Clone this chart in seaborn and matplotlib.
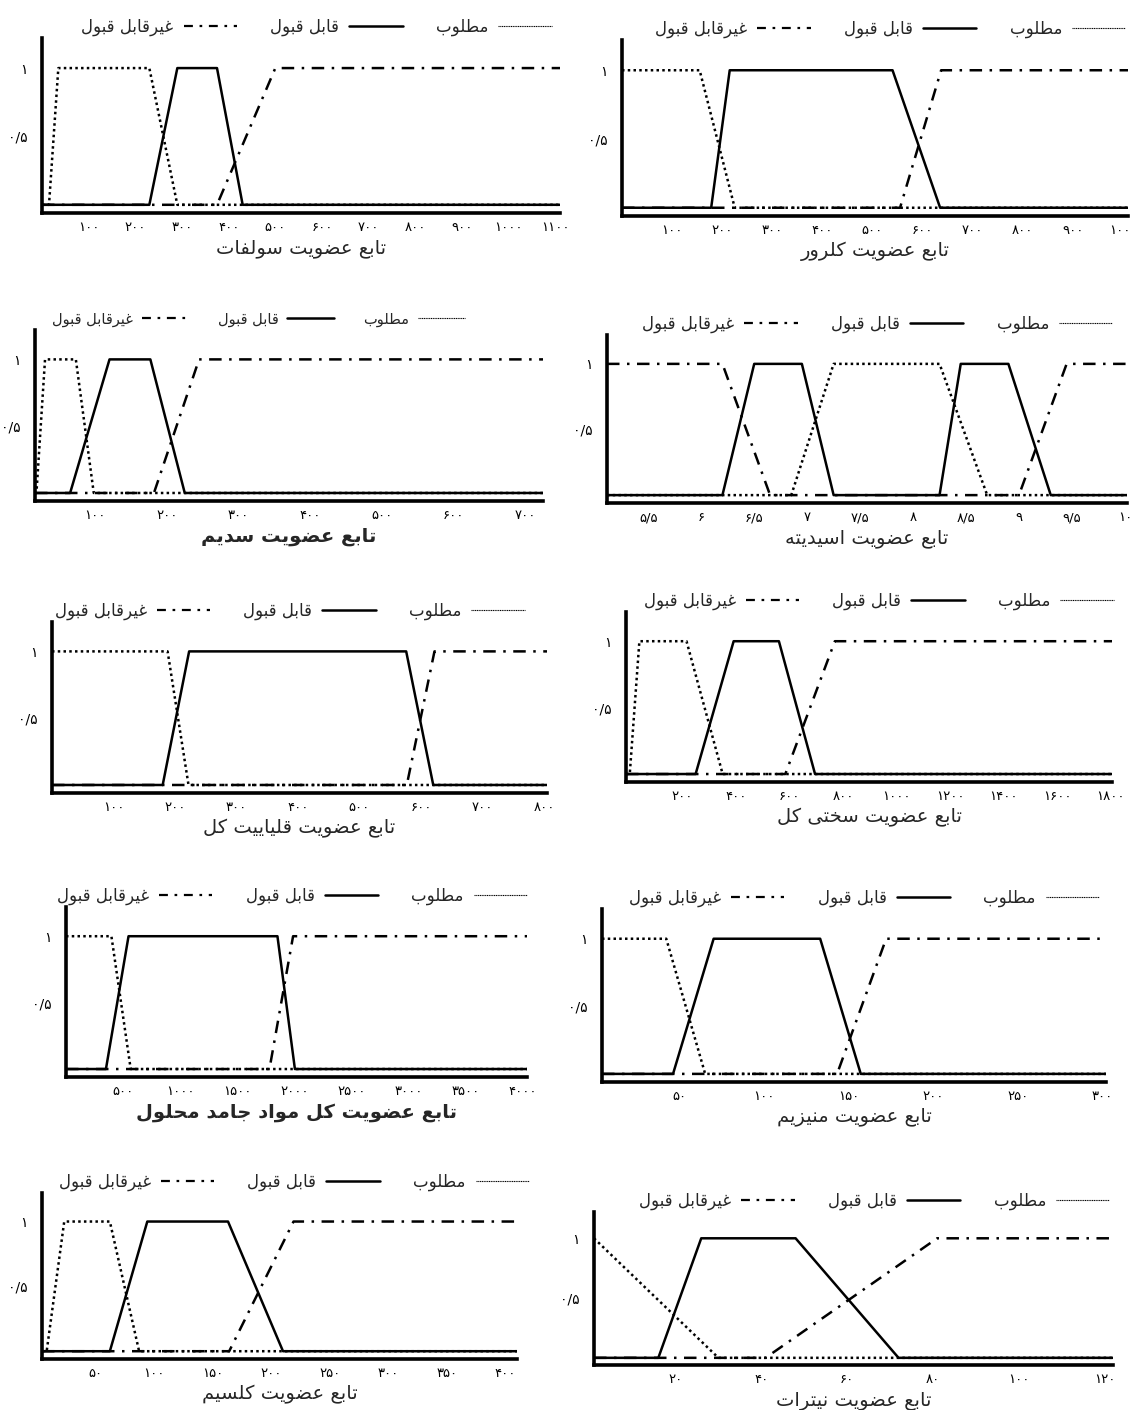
import matplotlib
matplotlib.use("Agg")
import matplotlib.pyplot as plt
from matplotlib.lines import Line2D
import pandas as pd
import seaborn as sns

# ---- membership breakpoints (x, membership) ----
sulfate_desired = [(15, 0), (35, 1), (230, 1), (290, 0)]
sulfate_accept = [(230, 0), (290, 1), (375, 1), (430, 0)]
sulfate_reject = [(375, 0), (500, 1)]
sulfate_ticks = [100, 200, 300, 400, 500, 600, 700, 800, 900, 1000, 1100]

chloride_desired = [(155, 1), (225, 0)]
chloride_accept = [(178, 0), (215, 1), (540, 1), (635, 0)]
chloride_reject = [(555, 0), (637, 1)]
chloride_ticks = [100, 200, 300, 400, 500, 600, 700, 800, 900, 1000]

sodium_desired = [(18, 0), (30, 1), (73, 1), (98, 0)]
sodium_accept = [(65, 0), (120, 1), (177, 1), (225, 0)]
sodium_reject = [(182, 0), (245, 1)]
sodium_ticks = [100, 200, 300, 400, 500, 600, 700]

ph_desired = [(6.85, 0), (7.25, 1), (8.25, 1), (8.7, 0)]
ph_accept = [(6.2, 0), (6.5, 1), (6.95, 1), (7.25, 0),
             (8.25, 0), (8.45, 1), (8.9, 1), (9.3, 0)]
ph_reject = [(6.2, 1), (6.65, 0), (9.0, 0), (9.45, 1)]
ph_ticks = [5.5, 6, 6.5, 7, 7.5, 8, 8.5, 9, 9.5, 10]

alkalinity_desired = [(188, 1), (222, 0)]
alkalinity_accept = [(180, 0), (223, 1), (576, 1), (620, 0)]
alkalinity_reject = [(577, 0), (622, 1)]
alkalinity_ticks = [100, 200, 300, 400, 500, 600, 700, 800]

hardness_desired = [(4, 0), (40, 1), (216, 1), (351, 0)]
hardness_accept = [(250, 0), (392, 1), (561, 1), (696, 0)]
hardness_reject = [(585, 0), (770, 1)]
hardness_ticks = [200, 400, 600, 800, 1000, 1200, 1400, 1600, 1800]

tds_desired = [(398, 1), (567, 0)]
tds_accept = [(350, 0), (548, 1), (1853, 1), (2006, 0)]
tds_reject = [(1783, 0), (1990, 1)]
tds_ticks = [500, 1000, 1500, 2000, 2500, 3000, 3500, 4000]

magnesium_desired = [(42, 1), (65, 0)]
magnesium_accept = [(46, 0), (70, 1), (133, 1), (157, 0)]
magnesium_reject = [(143, 0), (172, 1)]
magnesium_ticks = [50, 100, 150, 200, 250, 300]

calcium_desired = [(8, 0), (23, 1), (62, 1), (87, 0)]
calcium_accept = [(62, 0), (94, 1), (163, 1), (210, 0)]
calcium_reject = [(164, 0), (219, 1)]
calcium_ticks = [50, 100, 150, 200, 250, 300, 350, 400]

nitrate_desired = [(1, 1), (30, 0)]
nitrate_accept = [(16, 0), (26, 1), (48, 1), (72, 0)]
nitrate_reject = [(41, 0), (81, 1)]
nitrate_ticks = [20, 40, 60, 80, 100, 120]

legend_labels = ["غیرقابل قبول", "قابل قبول", "مطلوب"]

# ---- minimal Persian shaping (matplotlib does no Arabic shaping) ----
FORMS = {
    "ا": ("\uFE8D", "\uFE8E", None, None),
    "ب": ("\uFE8F", "\uFE90", "\uFE91", "\uFE92"),
    "ت": ("\uFE95", "\uFE96", "\uFE97", "\uFE98"),
    "ج": ("\uFE9D", "\uFE9E", "\uFE9F", "\uFEA0"),
    "ح": ("\uFEA1", "\uFEA2", "\uFEA3", "\uFEA4"),
    "خ": ("\uFEA5", "\uFEA6", "\uFEA7", "\uFEA8"),
    "د": ("\uFEA9", "\uFEAA", None, None),
    "ر": ("\uFEAD", "\uFEAE", None, None),
    "ز": ("\uFEAF", "\uFEB0", None, None),
    "س": ("\uFEB1", "\uFEB2", "\uFEB3", "\uFEB4"),
    "ض": ("\uFEBD", "\uFEBE", "\uFEBF", "\uFEC0"),
    "ط": ("\uFEC1", "\uFEC2", "\uFEC3", "\uFEC4"),
    "ع": ("\uFEC9", "\uFECA", "\uFECB", "\uFECC"),
    "غ": ("\uFECD", "\uFECE", "\uFECF", "\uFED0"),
    "ف": ("\uFED1", "\uFED2", "\uFED3", "\uFED4"),
    "ق": ("\uFED5", "\uFED6", "\uFED7", "\uFED8"),
    "ل": ("\uFEDD", "\uFEDE", "\uFEDF", "\uFEE0"),
    "م": ("\uFEE1", "\uFEE2", "\uFEE3", "\uFEE4"),
    "ن": ("\uFEE5", "\uFEE6", "\uFEE7", "\uFEE8"),
    "ه": ("\uFEE9", "\uFEEA", "\uFEEB", "\uFEEC"),
    "و": ("\uFEED", "\uFEEE", None, None),
    "ک": ("\uFB8E", "\uFB8F", "\uFB90", "\uFB91"),
    "ی": ("\uFBFC", "\uFBFD", "\uFBFE", "\uFBFF"),
}


def fa(text):
    out = []
    for i, ch in enumerate(text):
        if ch not in FORMS:
            out.append(ch)
            continue
        prev = text[i - 1] if i > 0 else None
        nxt = text[i + 1] if i + 1 < len(text) else None
        join_prev = prev in FORMS and FORMS[prev][2] is not None
        join_next = FORMS[ch][2] is not None and nxt in FORMS
        iso, fin, ini, med = FORMS[ch]
        if join_prev and join_next:
            out.append(med)
        elif join_prev:
            out.append(fin)
        elif join_next:
            out.append(ini)
        else:
            out.append(iso)
    return "".join(out)[::-1]


def fa_num(v):
    s = f"{v:g}".replace(".", "/")
    return s.translate(str.maketrans("0123456789", "۰۱۲۳۴۵۶۷۸۹"))


def extend(points, lo, hi):
    xs = [p[0] for p in points]
    ys = [p[1] for p in points]
    if xs[0] > lo:
        xs.insert(0, lo)
        ys.insert(0, ys[0])
    if xs[-1] < hi:
        xs.append(hi)
        ys.append(ys[-1])
    return pd.DataFrame({"x": xs, "m": ys})


sns.set_theme(style="white")
plt.rcParams["font.family"] = ["DejaVu Sans"]

W, H = 1131, 1410
fig = plt.figure(figsize=(W / 100, H / 100), dpi=100)

DOT = (0, (1, 1.3))
DASHDOT = (0, (5, 3, 1, 3))

# title, xlim, ticks, series, axes box px (left, top, right, bottom), legend x, legend size, bold
panels = [
    ("تابع عضویت سولفات", (0, 1110), sulfate_ticks,
     (sulfate_desired, sulfate_accept, sulfate_reject), (42, 38, 560, 213), 0.53, 12, False),
    ("تابع عضویت کلرور", (0, 1010), chloride_ticks,
     (chloride_desired, chloride_accept, chloride_reject), (622, 40, 1128, 216), 0.53, 12, False),
    ("تابع عضویت سدیم", (16, 725), sodium_ticks,
     (sodium_desired, sodium_accept, sodium_reject), (35, 330, 543, 501), 0.44, 10.5, True),
    ("تابع عضویت اسیدیته", (5.11, 10.02), ph_ticks,
     (ph_desired, ph_accept, ph_reject), (607, 335, 1127, 503), 0.52, 12, False),
    ("تابع عضویت قلیاییت کل", (0, 805), alkalinity_ticks,
     (alkalinity_desired, alkalinity_accept, alkalinity_reject), (52, 622, 547, 793), 0.48, 12, False),
    ("تابع عضویت سختی کل", (-10, 1805), hardness_ticks,
     (hardness_desired, hardness_accept, hardness_reject), (626, 612, 1112, 782), 0.52, 12, False),
    ("تابع عضویت کل مواد جامد محلول", (0, 4040), tds_ticks,
     (tds_desired, tds_accept, tds_reject), (66, 907, 527, 1077), 0.49, 12, True),
    ("تابع عضویت منیزیم", (4, 302), magnesium_ticks,
     (magnesium_desired, magnesium_accept, magnesium_reject), (602, 909, 1106, 1082), 0.52, 12, False),
    ("تابع عضویت کلسیم", (4, 410), calcium_ticks,
     (calcium_desired, calcium_accept, calcium_reject), (42, 1193, 517, 1359), 0.53, 12, False),
    ("تابع عضویت نیترات", (1, 122), nitrate_ticks,
     (nitrate_desired, nitrate_accept, nitrate_reject), (594, 1212, 1113, 1365), 0.54, 12, False),
]

for title, (lo, hi), ticks, (des, acc, rej), (l, t, r, b), lx, lsize, bold in panels:
    ax = fig.add_axes([l / W, 1 - b / H, (r - l) / W, (b - t) / H])
    for pts, ls, lw in ((acc, "-", 1.8), (rej, DASHDOT, 1.8), (des, DOT, 1.8)):
        df = extend(pts, lo, hi)
        sns.lineplot(data=df, x="x", y="m", ax=ax, color="black", lw=lw,
                     linestyle=ls, estimator=None, sort=False)
    ax.set_xlim(lo, hi)
    ax.set_ylim(-0.06, 1.22)
    ax.set_xticks(ticks)
    ax.set_xticklabels([fa_num(v) for v in ticks], fontsize=9.5)
    ax.set_yticks([0.5, 1])
    ax.set_yticklabels(["۰/۵", "۱"], fontsize=10)
    ax.tick_params(axis="x", direction="in", length=6, width=1.2, pad=6, colors="black")
    ax.tick_params(axis="y", direction="in", length=3, width=1, pad=10, colors="black")
    for side in ("top", "right"):
        ax.spines[side].set_visible(False)
    for side in ("left", "bottom"):
        ax.spines[side].set_linewidth(2.6)
        ax.spines[side].set_color("black")
    ax.set_xlabel(fa(title), fontsize=14, labelpad=3,
                  fontweight="bold" if bold else "normal")
    ax.set_ylabel("")

    handles = [
        Line2D([], [], color="black", lw=1.6, linestyle=(0, (4, 3, 1.2, 3))),
        Line2D([], [], color="black", lw=1.8, linestyle="-"),
        Line2D([], [], color="black", lw=0.8, linestyle=(0, (1, 0.6))),
    ]
    ax.legend(handles, [fa(s) for s in legend_labels], ncol=3, loc="center",
              bbox_to_anchor=(lx, 1 + 11 / (b - t)), frameon=False, markerfirst=False,
              handlelength=3.2, handletextpad=0.6, columnspacing=2.0, fontsize=lsize,
              borderaxespad=0, borderpad=0)

fig.savefig("out.png", dpi=100, facecolor="white")
